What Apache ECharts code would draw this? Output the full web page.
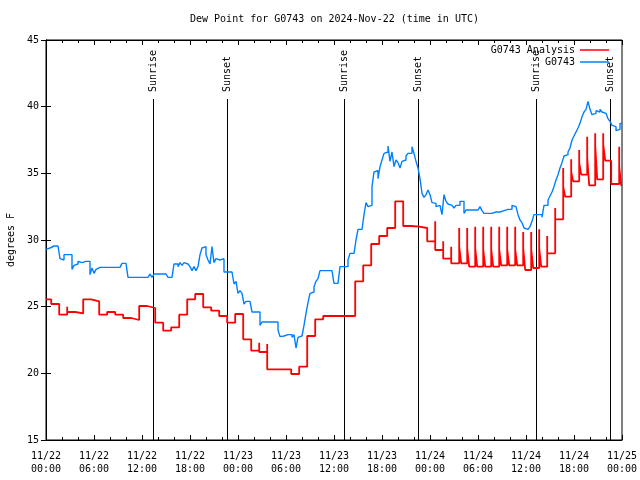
<!DOCTYPE html>
<html><head><meta charset="utf-8">
<script src="https://cdn.jsdelivr.net/npm/echarts@6/dist/echarts.min.js"></script>
<style>html,body{margin:0;padding:0;background:#fff}#c{width:640px;height:480px}</style>
</head><body><div id="c"></div>
<script>
// x positions are hours since 2024-11-22 00:00 UTC
const xTickLabels = ['11/22\n00:00','11/22\n06:00','11/22\n12:00','11/22\n18:00','11/23\n00:00','11/23\n06:00','11/23\n12:00','11/23\n18:00','11/24\n00:00','11/24\n06:00','11/24\n12:00','11/24\n18:00','11/25\n00:00'];
const yTicks = [15, 20, 25, 30, 35, 40, 45];

// observed dew point (G0743), one value every 15 minutes starting 00:00
const blueStep = 0.25;
const blueVals = [
29.3,29.4,29.3,29.55,29.55,29.55,29.55,28.6,28.5,28.9,28.9,28.9,28.9,27.8,28.1,28.2,
28.4,28.3,28.4,28.4,28.4,28.4,27.4,27.9,27.5,27.8,27.95,27.95,27.95,27.95,27.95,27.95,
27.95,27.95,27.95,27.95,27.95,28.1,28.25,28.25,28.25,27.2,27.2,27.2,27.2,27.2,27.2,27.2,
27.2,27.2,27.2,27.2,27.45,27.2,27.45,27.45,27.45,27.45,27.45,27.45,27.45,27.2,27.2,27.2,
28.2,28.2,28.0,28.3,28.1,28.3,28.2,28.3,28.0,27.7,28.0,27.7,28.0,28.9,29.4,29.5,
28.9,28.5,28.2,29.5,28.3,28.6,28.5,28.6,28.6,27.6,27.6,27.6,27.6,27.6,26.7,26.9,
26.0,26.2,26.0,25.2,25.4,25.4,25.4,24.6,24.6,24.6,24.6,23.6,23.85,23.85,23.95,23.85,
23.9,23.85,23.95,23.85,23.25,22.75,22.8,22.9,22.9,22.9,22.9,22.7,22.9,21.9,22.7,22.8,
22.9,23.6,24.5,25.3,26.0,26.1,26.5,26.9,27.1,27.7,27.7,27.7,27.7,27.7,27.7,27.7,
26.75,26.75,26.75,28.0,28.0,28.0,28.0,28.5,29.0,29.0,29.0,30.0,30.8,30.8,30.8,31.9,
32.8,32.5,32.6,34.0,35.1,35.2,34.6,35.5,36.0,36.5,36.6,37.05,35.9,36.6,35.5,36.0,
35.8,35.4,35.9,36.0,36.3,36.5,36.5,37.0,36.5,35.9,35.4,34.6,33.5,33.2,33.4,33.75,
33.4,32.8,32.75,32.5,32.6,32.5,31.9,33.4,32.9,32.7,32.6,32.7,32.4,32.6,32.6,32.9,
32.9,32.0,32.25,32.25,32.25,32.25,32.25,32.25,32.25,32.5,32.2,32.0,32.0,32.05,32.0,32.0,
32.1,32.1,32.1,32.1,32.2,32.3,32.3,32.3,32.3,32.6,32.5,32.5,31.9,31.5,31.3,30.9,
30.8,30.8,31.0,31.4,31.9,31.9,31.8,31.9,31.7,32.6,32.6,33.0,33.3,33.6,34.0,34.5,
34.9,35.4,35.8,36.3,36.4,36.6,36.9,37.5,37.8,38.1,38.4,38.75,39.25,39.6,39.8,40.4,
39.8,39.4,39.5,39.7,39.6,39.8,39.6,39.5,39.4,39.1,38.9,38.6,38.5,38.2,38.3,38.75,
38.8
];

// analysis: one base value per hour step, optional spike and shoulder at each step
const redOffset = 0.35;
const redBase = [
25.55,25.2,24.4,24.6,24.5,25.55,25.4,24.4,24.6,24.4,24.15,24.0,25.05,24.9,23.8,23.2,
23.45,24.4,25.55,25.95,24.95,24.7,24.3,23.8,24.45,22.55,21.7,21.6,20.3,20.3,20.3,19.95,
20.5,22.8,24.05,24.3,24.3,24.3,24.3,26.9,28.1,29.7,30.3,30.9,32.9,31.05,31.0,30.9,
29.9,29.25,28.6,28.25,28.25,28.0,28.0,28.0,28.0,28.1,28.1,28.1,27.75,27.9,28.0,29.0,
31.55,33.25,34.4,34.9,34.1,34.55,35.95,34.2,34.1
];
const redSpike = [
null,null,null,25.0,null,null,null,null,null,null,null,null,null,null,null,null,
null,null,null,null,null,null,null,null,null,null,null,22.3,22.2,null,null,null,
null,null,null,null,null,null,null,null,null,null,null,null,null,null,null,null,
null,31.4,29.9,29.5,30.9,30.9,31.0,31.0,31.0,31.0,31.0,31.0,30.6,30.6,30.8,30.3,
32.4,35.4,36.05,36.75,37.75,38.0,38.0,null,37.0
];
const redShoulder = [
null,null,null,null,null,null,null,null,null,null,null,null,null,null,null,null,
null,null,null,null,null,null,null,null,null,null,null,null,null,null,null,null,
null,null,null,null,null,null,null,null,null,null,null,null,null,null,null,null,
null,null,null,null,29.5,29.4,29.4,29.3,29.3,29.3,29.3,29.3,29.4,29.3,29.4,null,
null,34.0,35.1,35.8,36.2,37.1,37.2,null,35.5
];

const sunTimes = [13.41, 22.67, 37.29, 46.54, 61.25, 70.5];
const sunLabels = ['Sunrise','Sunset','Sunrise','Sunset','Sunrise','Sunset'];

const blueData = blueVals.map((v, i) => [i * blueStep, v]);
const redData = [];
redBase.forEach((v, k) => {
  const t = Math.max(0, k - redOffset);
  if (redSpike[k] != null) redData.push([t, redSpike[k]]);
  if (redShoulder[k] != null) { redData.push([t, redShoulder[k]]); redData.push([t + 0.25, v]); }
  else redData.push([t, v]);
});
redData.push([72, redBase[redBase.length - 1]]);

const FONT = '"DejaVu Sans Mono", monospace';
const chart = echarts.init(document.getElementById('c'), null, {renderer: 'canvas'});
const axisCommon = {
  type: 'value', min: 0, max: 72, interval: 6,
  axisLine: {show: true, lineStyle: {color: '#000', width: 1}},
  axisTick: {show: true, inside: true, length: 5, lineStyle: {color: '#000'}},
  minorTick: {show: true, splitNumber: 3, length: 3, lineStyle: {color: '#000'}},
  splitLine: {show: false}, minorSplitLine: {show: false}
};
const yCommon = {
  type: 'value', min: 15, max: 45, interval: 5,
  axisLine: {show: true, lineStyle: {color: '#000', width: 1}},
  axisTick: {show: true, inside: true, length: 5, lineStyle: {color: '#000'}},
  splitLine: {show: false}
};
chart.setOption({
  animation: false,
  backgroundColor: '#fff',
  title: {text: 'Dew Point for G0743 on 2024-Nov-22 (time in UTC)', left: 190, top: 14, padding: 0,
    textStyle: {fontFamily: FONT, fontSize: 10, fontWeight: 'normal', color: '#000'}},
  grid: {left: 46, right: 18, top: 40, bottom: 40, show: true, borderColor: '#000', borderWidth: 1,
    containLabel: false, outerBoundsMode: 'none'},
  legend: [
    {data: ['G0743 Analysis'], right: 31, top: 45, padding: 0, align: 'right', itemWidth: 29, itemHeight: 1.5, icon: 'rect',
      textStyle: {fontFamily: FONT, fontSize: 10, color: '#000'}},
    {data: ['G0743'], right: 31, top: 57, padding: 0, align: 'right', itemWidth: 29, itemHeight: 1.5, icon: 'rect',
      textStyle: {fontFamily: FONT, fontSize: 10, color: '#000'}}
  ],
  xAxis: [
    Object.assign({}, axisCommon, {position: 'bottom',
      axisLabel: {show: true, margin: 10, lineHeight: 13, fontFamily: FONT, fontSize: 10, color: '#000',
        formatter: v => xTickLabels[Math.round(v / 6)]}}),
    Object.assign({}, axisCommon, {position: 'top', axisLabel: {show: false}})
  ],
  yAxis: [
    Object.assign({}, yCommon, {position: 'left', name: 'degrees F', nameLocation: 'middle', nameGap: 30, nameRotate: 90,
      nameTextStyle: {fontFamily: FONT, fontSize: 10, color: '#000'},
      axisLabel: {show: true, margin: 7, fontFamily: FONT, fontSize: 10, color: '#000',
        formatter: v => (yTicks.indexOf(v) >= 0 ? String(v) : '')}}),
    Object.assign({}, yCommon, {position: 'right', axisLabel: {show: false}})
  ],
  series: [
    {
      type: 'custom', name: 'sun', silent: true, z: 1,
      data: sunTimes.map((t, i) => [t, i]),
      encode: {x: 0},
      renderItem: function (params, api) {
        const t = api.value(0), i = api.value(1);
        const b = api.coord([t, 15]);
        const tp = api.coord([t, 45]);
        const x = Math.round(b[0]) + 0.5;
        return {type: 'group', children: [
          {type: 'line', shape: {x1: x, y1: b[1], x2: x, y2: tp[1] + 59}, style: {stroke: '#000', lineWidth: 1}},
          {type: 'text', x: x, y: tp[1] + 52, rotation: Math.PI / 2,
            style: {text: sunLabels[i], fill: '#000', font: '10px ' + FONT, align: 'left', verticalAlign: 'middle'}}
        ]};
      }
    },
    {name: 'G0743 Analysis', type: 'line', step: 'end', data: redData, symbol: 'none', z: 2,
      itemStyle: {color: '#ff0000'}, lineStyle: {color: '#ff0000', width: 1.8}},
    {name: 'G0743', type: 'line', step: 'end', data: blueData, symbol: 'none', z: 3,
      itemStyle: {color: '#0080ff'}, lineStyle: {color: '#0080ff', width: 1.4}}
  ]
});
</script></body></html>
